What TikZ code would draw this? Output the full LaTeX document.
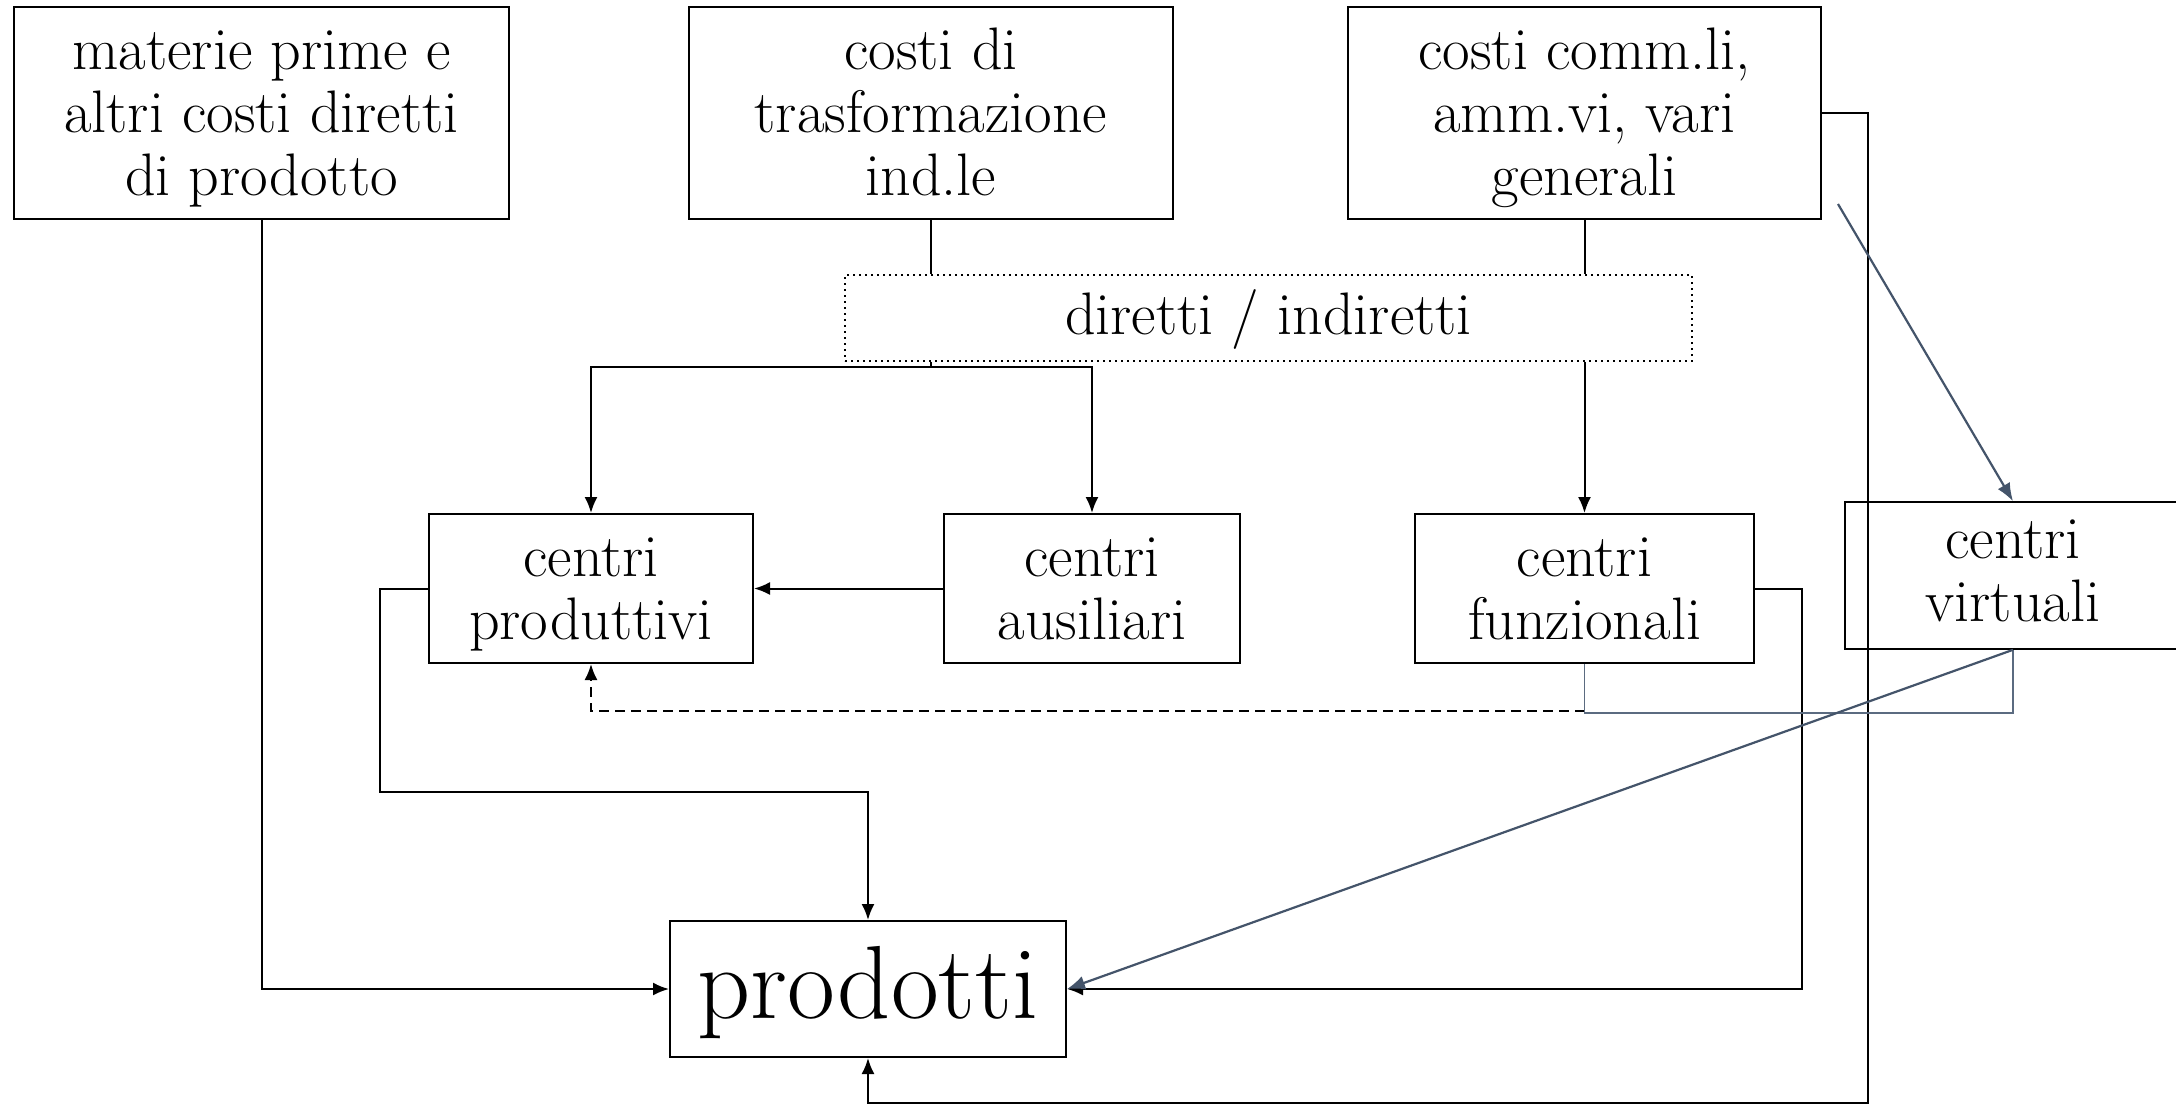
\documentclass[tikz,border=0pt]{standalone}
\usetikzlibrary{arrows.meta,calc}
\definecolor{slate}{HTML}{44546A}
\definecolor{slatelight}{HTML}{5B6B80}
\newcommand{\lowtext}[2]{\raisebox{-#1}[\height][\depth]{\begin{tabular}{@{}c@{}}#2\end{tabular}}}
\begin{document}
\begin{tikzpicture}[x=0.5pt,y=-0.5pt,
  box/.style={draw, line width=1pt, fill=white, align=center, inner sep=0pt,
    font=\fontsize{30}{31.5}\selectfont},
  conn/.style={line width=1pt},
  arr/.style={line width=1pt, -{Latex[length=8pt,width=6.5pt]}},
  garr/.style={line width=1.1pt, draw=slate, -{Latex[length=9pt,width=7pt]}, color=slate},
  gline/.style={line width=0.8pt, draw=slatelight}]
\useasboundingbox (0,0) rectangle (2176,1105);
\fill[white] (0,0) rectangle (2176,1105);

% nodes
\node[box, minimum width=247.5pt, minimum height=106pt] (m) at (261.5,113)
  {\lowtext{3.5pt}{materie prime e\\altri costi diretti\\di prodotto}};
\node[box, minimum width=242pt, minimum height=106pt] (t) at (931,113)
  {\lowtext{3.5pt}{costi di\\trasformazione\\ind.le}};
\node[box, minimum width=236.5pt, minimum height=106pt] (c) at (1584.5,113)
  {\lowtext{3.5pt}{costi comm.li,\\amm.vi, vari\\generali}};
\node[box, dotted, line width=0.7pt, minimum width=423.5pt, minimum height=43pt] (d) at (1268.5,318)
  {\lowtext{1.5pt}{diretti / indiretti}};
\node[box, minimum width=162pt, minimum height=74.5pt] (p) at (591,588.5)
  {\lowtext{3.5pt}{centri\\produttivi}};
\node[box, minimum width=148pt, minimum height=74.5pt] (a) at (1092,588.5)
  {\lowtext{3.5pt}{centri\\ausiliari}};
\node[box, minimum width=169.5pt, minimum height=74.5pt] (f) at (1584.5,588.5)
  {\lowtext{3.5pt}{centri\\funzionali}};
\node[box, fill=none, line width=0.8pt, minimum width=168pt, minimum height=73.5pt] (v) at (2013,575.5)
  {\lowtext{1pt}{centri\\virtuali}};
\node[box, minimum width=198pt, minimum height=68pt, font=\fontsize{52}{58}\selectfont] (pr) at (868,989)
  {\lowtext{3pt}{prodotti}};

% coordinates for free ends / bends
\coordinate (split) at (931,367);
\coordinate (pl) at (380,792);
\coordinate (fr) at (1802,989);
\coordinate (cb) at (1868,1103);
\coordinate (dl) at (1584.5,711);
\coordinate (gb) at (1584.5,713);
\coordinate (cs) at (1838,204);

% connectors
\draw[arr] (m.south) |- (pr.west);
\draw[conn] (t.south) -- (t.south |- d.north);
\draw[conn] (c.south) -- (c.south |- d.north);
\draw[conn] (t.south |- d.south) -- (split);
\draw[arr] (split) -| (p.north);
\draw[arr] (split) -| (a.north);
\draw[arr] (c.south |- d.south) -- (f.north);
\draw[arr] (a.west) -- (p.east);
\draw[arr] (p.west) -| (pl) -| (pr.north);
\draw[arr] (f.east) -| (fr) -- (pr.east);
\draw[arr] (c.east) -| (cb) -| (pr.south);
\draw[arr, dash pattern=on 5pt off 3pt] (dl) -| (p.south);
\draw[gline] (f.south) -- (gb) -| (v.south);
\draw[garr] (cs) -- (v.north);
\draw[garr] (v.south) -- (pr.east);
\end{tikzpicture}
\end{document}
